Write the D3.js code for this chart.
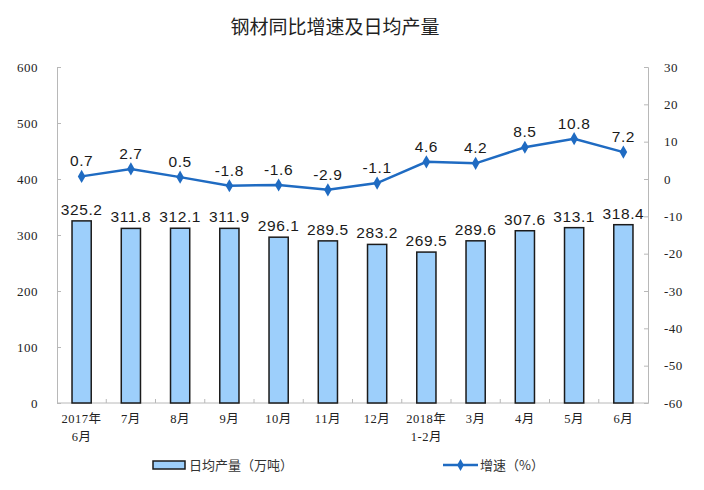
<!DOCTYPE html>
<html>
<head>
<meta charset="utf-8">
<script src="https://cdn.jsdelivr.net/npm/d3@7"></script>
<style>
  body { margin: 0; background: #fff; }
  svg { display: block; }
</style>
</head>
<body>
<div id="chart"></div>
<script>
// categories and values
var months = ["2017年|6月", "7月", "8月", "9月", "10月", "11月", "12月", "2018年|1-2月", "3月", "4月", "5月", "6月"];
var dailyOutput = [325.2, 311.8, 312.1, 311.9, 296.1, 289.5, 283.2, 269.5, 289.6, 307.6, 313.1, 318.4];
var growth = [0.7, 2.7, 0.5, -1.8, -1.6, -2.9, -1.1, 4.6, 4.2, 8.5, 10.8, 7.2];
var leftTicks = [0, 100, 200, 300, 400, 500, 600];
var rightTicks = [30, 20, 10, 0, -10, -20, -30, -40, -50, -60];

var width = 704, height = 490;
var plotLeft = 57, plotRight = 648, plotTop = 67, plotBottom = 403;
var lineColor = "#1f6bc2";

var svg = d3.select("#chart").append("svg")
  .attr("width", width)
  .attr("height", height);

// title
svg.append("text")
  .attr("x", 335).attr("y", 34)
  .attr("text-anchor", "middle")
  .style("font-family", "'Noto Sans CJK SC', sans-serif")
  .style("font-size", "19px")
  .style("fill", "#222")
  .text("钢材同比增速及日均产量");

var x = d3.scaleBand()
  .domain(months)
  .range([plotLeft, plotRight])
  .paddingInner(0.61)
  .paddingOuter(0.305);

var y = d3.scaleLinear().domain([0, 600]).range([plotBottom, plotTop]);
var y2 = d3.scaleLinear().domain([-60, 30]).range([plotBottom, plotTop]);

var numFont = "'Liberation Serif', 'Times New Roman', serif";
var plain = function(d) { return String(d); };

// left axis
var yAxis = svg.append("g")
  .attr("transform", "translate(" + plotLeft + ",0)")
  .call(d3.axisLeft(y).tickValues(leftTicks).tickFormat(plain).tickSize(-4).tickPadding(19));
yAxis.selectAll("path, line").attr("stroke", "#b8b8b8");
yAxis.selectAll("text")
  .style("font-family", numFont).style("font-size", "13px")
  .style("letter-spacing", "0.5px").style("fill", "#222");

// right axis
var y2Axis = svg.append("g")
  .attr("transform", "translate(" + plotRight + ",0)")
  .call(d3.axisRight(y2).tickValues(rightTicks).tickFormat(plain).tickSize(-4).tickPadding(16));
y2Axis.selectAll("path, line").attr("stroke", "#b8b8b8");
y2Axis.selectAll("text")
  .style("font-family", numFont).style("font-size", "13px")
  .style("letter-spacing", "0.5px").style("fill", "#222");

// x axis line and tick marks between categories
svg.append("line")
  .attr("x1", plotLeft).attr("x2", plotRight)
  .attr("y1", plotBottom).attr("y2", plotBottom)
  .attr("stroke", "#b8b8b8");

svg.selectAll(".xtick")
  .data(months.slice(1))
  .enter().append("line")
  .attr("x1", function(d) { return x(d) - x.step() * x.paddingInner() / 2; })
  .attr("x2", function(d) { return x(d) - x.step() * x.paddingInner() / 2; })
  .attr("y1", plotBottom).attr("y2", plotBottom - 4)
  .attr("stroke", "#b8b8b8");

// x labels, may be two lines
var xl = svg.selectAll(".xlabel")
  .data(months)
  .enter().append("text")
  .attr("text-anchor", "middle")
  .style("font-family", "'Liberation Serif', 'Noto Sans CJK SC', serif")
  .style("font-size", "12.5px")
  .style("letter-spacing", "0.5px")
  .style("fill", "#222");

xl.each(function(d) {
  var parts = d.split("|");
  var cx = x(d) + x.bandwidth() / 2;
  d3.select(this).selectAll("tspan")
    .data(parts)
    .enter().append("tspan")
    .attr("x", cx)
    .attr("y", function(p, i) { return 423 + i * 18; })
    .text(function(p) { return p; });
});

// bars
svg.selectAll(".bar")
  .data(dailyOutput)
  .enter().append("rect")
  .attr("x", function(d, i) { return x(months[i]); })
  .attr("y", function(d) { return y(d); })
  .attr("width", x.bandwidth())
  .attr("height", function(d) { return plotBottom - y(d); })
  .attr("fill", "#9dcffb")
  .attr("stroke", "#1b1b1b")
  .attr("stroke-width", 1.5);

var labelFont = "'Liberation Sans', Arial, sans-serif";

svg.selectAll(".barlabel")
  .data(dailyOutput)
  .enter().append("text")
  .attr("x", function(d, i) { return x(months[i]) + x.bandwidth() / 2; })
  .attr("y", function(d) { return y(d) - 6; })
  .attr("text-anchor", "middle")
  .style("font-family", labelFont)
  .style("font-size", "15.5px")
  .style("letter-spacing", "0.6px")
  .style("fill", "#1a1a1a")
  .text(function(d) { return d.toFixed(1); });

// growth line
var line = d3.line()
  .x(function(d, i) { return x(months[i]) + x.bandwidth() / 2; })
  .y(function(d) { return y2(d); });

svg.append("path")
  .datum(growth)
  .attr("d", line)
  .attr("fill", "none")
  .attr("stroke", lineColor)
  .attr("stroke-width", 2.5);

svg.selectAll(".pt")
  .data(growth)
  .enter().append("path")
  .attr("d", d3.symbol().type(d3.symbolDiamond).size(50))
  .attr("transform", function(d, i) {
    return "translate(" + (x(months[i]) + x.bandwidth() / 2) + "," + y2(d) + ")";
  })
  .attr("fill", lineColor);

svg.selectAll(".ptlabel")
  .data(growth)
  .enter().append("text")
  .attr("x", function(d, i) { return x(months[i]) + x.bandwidth() / 2; })
  .attr("y", function(d) { return y2(d) - 10; })
  .attr("text-anchor", "middle")
  .style("font-family", labelFont)
  .style("font-size", "15.5px")
  .style("letter-spacing", "0.6px")
  .style("fill", "#1a1a1a")
  .text(function(d) { return d.toFixed(1); });

// legend
var legend = svg.append("g").style("font-family", "'Noto Sans CJK SC', sans-serif").style("font-size", "13px");

legend.append("rect")
  .attr("x", 153).attr("y", 461)
  .attr("width", 32).attr("height", 8)
  .attr("fill", "#9dcffb")
  .attr("stroke", "#1b1b1b")
  .attr("stroke-width", 1.5);
legend.append("text")
  .attr("x", 189).attr("y", 470)
  .style("fill", "#333")
  .text("日均产量（万吨）");

legend.append("line")
  .attr("x1", 443).attr("x2", 478)
  .attr("y1", 465).attr("y2", 465)
  .attr("stroke", lineColor)
  .attr("stroke-width", 2.5);
legend.append("path")
  .attr("d", d3.symbol().type(d3.symbolDiamond).size(40))
  .attr("transform", "translate(460.5,465)")
  .attr("fill", lineColor);
legend.append("text")
  .attr("x", 480).attr("y", 470)
  .style("fill", "#333")
  .text("增速（%）");
</script>
</body>
</html>
